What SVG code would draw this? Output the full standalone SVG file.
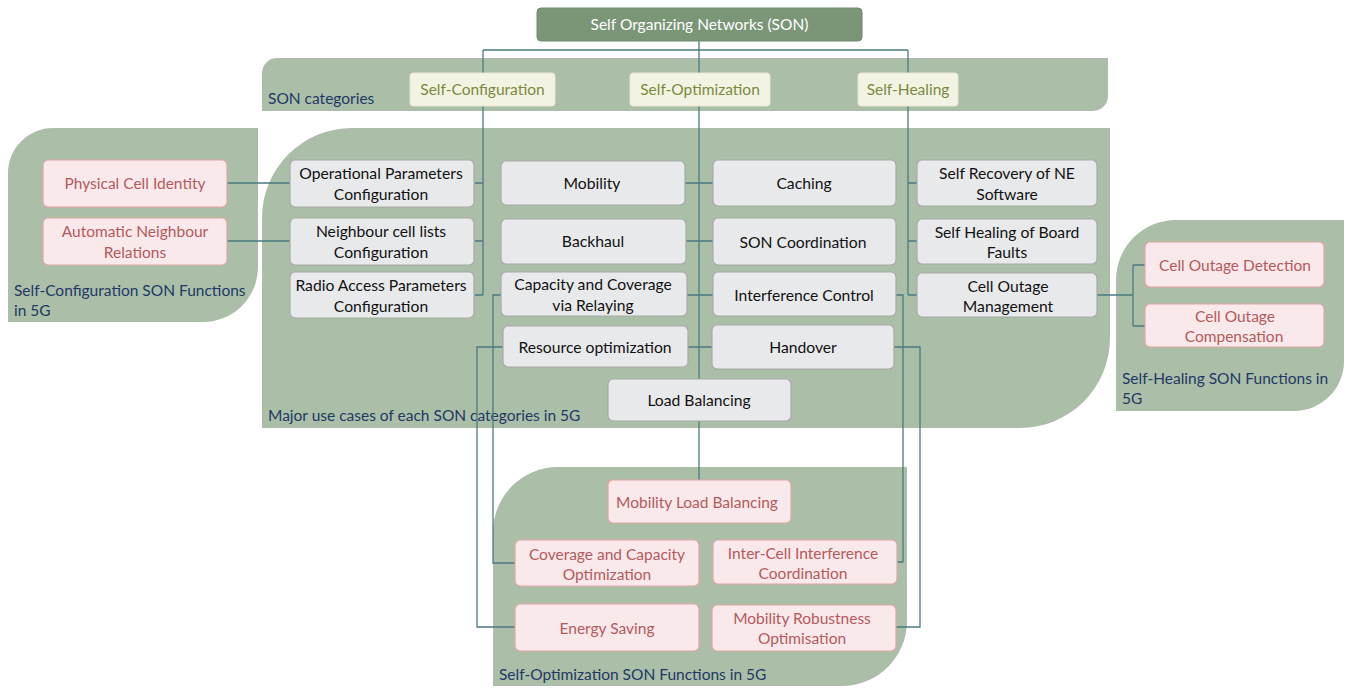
<svg xmlns="http://www.w3.org/2000/svg" width="1348" height="689" viewBox="0 0 1348 689">
<style>
.panel{fill:#abbfa8}
.plabel{font-family:Lato,"Open Sans",sans-serif;font-size:15.5px;fill:#1f3864}
.gray rect{fill:#e8e9eb;stroke:#a8aaa8;stroke-width:1.2}
.gray text{font-family:Lato,"Open Sans",sans-serif;font-size:15.7px;fill:#111;text-anchor:middle}
.pink rect{fill:#fae9ea;stroke:#e3a5a6;stroke-width:1.2}
.pink text{font-family:Lato,"Open Sans",sans-serif;font-size:15.5px;fill:#b4595c;text-anchor:middle}
.cat rect{fill:#f3f3e4;stroke:#e6e6d0;stroke-width:1}
.cat text{font-family:Lato,"Open Sans",sans-serif;font-size:15.5px;fill:#7a8a3c;text-anchor:middle}
.conn path{fill:none;stroke:#4b7a80;stroke-width:1.3}
</style>
<rect width="1348" height="689" fill="#ffffff"/>
<g id="panels">
<path class="panel" d="M277,58 H1108 V96 A15,15 0 0 1 1093,111 H262 V73 A15,15 0 0 1 277,58 Z"/>
<path class="panel" d="M352,128 H1110 V338 A90,90 0 0 1 1020,428 H262 V218 A90,90 0 0 1 352,128 Z"/>
<path class="panel" d="M53,128 H258 V267 A55,55 0 0 1 203,322 H8 V173 A45,45 0 0 1 53,128 Z"/>
<path class="panel" d="M1176,220 H1344 V361 A50,50 0 0 1 1294,411 H1116 V280 A60,60 0 0 1 1176,220 Z"/>
<path class="panel" d="M558,467 H907 V621 A65,65 0 0 1 842,686 H493 V532 A65,65 0 0 1 558,467 Z"/>
<text class="plabel" x="268" y="104">SON categories</text>
<text class="plabel" x="268" y="421">Major use cases of each SON categories in 5G</text>
<text class="plabel" x="14" y="296">Self-Configuration SON Functions</text>
<text class="plabel" x="14" y="316">in 5G</text>
<text class="plabel" x="1122" y="384">Self-Healing SON Functions in</text>
<text class="plabel" x="1122" y="404">5G</text>
<text class="plabel" x="499" y="680">Self-Optimization SON Functions in 5G</text>
</g>
<g id="connectors" class="conn">
<path d="M699,41 V50 M483,50 H908 M483,50 V73 M699,50 V73 M908,50 V73"/>
<path d="M483,106 V295 M475,183 H483 M475,241 H483 M475,295 H483"/>
<path d="M227,183 H290 M227,241 H290"/>
<path d="M699,106 V481 M685,183 H713 M686,241 H713 M687,295 H713 M688,347 H712"/>
<path d="M908,106 V295 M908,183 H917 M908,241 H917 M908,295 H917"/>
<path d="M1097,295 H1133 M1133,265 V326 M1133,265 H1145 M1133,326 H1145"/>
<path d="M501,295 H493 V563 H515"/>
<path d="M503,347 H477 V627 H515"/>
<path d="M896,295 H903 V562 H897"/>
<path d="M894,347 H920 V627 H896"/>
</g>
<g id="son">
<rect x="537" y="8" width="325" height="33" rx="4" fill="#7a9677" stroke="#6f8b6c"/>
<text x="699.5" y="30" font-family="Lato,'Open Sans',sans-serif" font-size="15.5" fill="#ffffff" text-anchor="middle">Self Organizing Networks (SON)</text>
</g>
<g id="self-configuration" class="cat"><rect x="410" y="73" width="145" height="33" rx="3"/><text x="482.5" y="95">Self-Configuration</text></g>
<g id="self-optimization" class="cat"><rect x="630" y="73" width="140" height="33" rx="3"/><text x="700" y="95">Self-Optimization</text></g>
<g id="self-healing" class="cat"><rect x="858" y="73" width="100" height="33" rx="3"/><text x="908" y="95">Self-Healing</text></g>

<g id="physical-cell-identity" class="pink"><rect x="43" y="160" width="184" height="47" rx="5"/><text x="135" y="189">Physical Cell Identity</text></g>
<g id="automatic-neighbour-relations" class="pink"><rect x="43" y="218" width="184" height="47" rx="5"/><text x="135" y="237">Automatic Neighbour</text><text x="135" y="258">Relations</text></g>

<g id="operational-parameters" class="gray"><rect x="290" y="160" width="184" height="47" rx="5"/><text x="381" y="179">Operational Parameters</text><text x="381" y="200">Configuration</text></g>
<g id="neighbour-cell-lists" class="gray"><rect x="290" y="218" width="184" height="47" rx="5"/><text x="381" y="237">Neighbour cell lists</text><text x="381" y="258">Configuration</text></g>
<g id="radio-access-parameters" class="gray"><rect x="290" y="272" width="184" height="46" rx="5"/><text x="381" y="291">Radio Access Parameters</text><text x="381" y="312">Configuration</text></g>

<g id="mobility" class="gray"><rect x="501" y="161" width="184" height="44" rx="5"/><text x="592" y="189">Mobility</text></g>
<g id="backhaul" class="gray"><rect x="501" y="219" width="185" height="45" rx="5"/><text x="593" y="247">Backhaul</text></g>
<g id="capacity-coverage-relaying" class="gray"><rect x="501" y="272" width="186" height="44" rx="5"/><text x="593" y="290">Capacity and Coverage</text><text x="593" y="311">via Relaying</text></g>
<g id="resource-optimization" class="gray"><rect x="503" y="326" width="185" height="41" rx="5"/><text x="595" y="353">Resource optimization</text></g>
<g id="load-balancing" class="gray"><rect x="608" y="379" width="183" height="42" rx="5"/><text x="699" y="406">Load Balancing</text></g>

<g id="caching" class="gray"><rect x="713" y="160" width="183" height="46" rx="5"/><text x="804" y="189">Caching</text></g>
<g id="son-coordination" class="gray"><rect x="713" y="218" width="183" height="47" rx="5"/><text x="803" y="248">SON Coordination</text></g>
<g id="interference-control" class="gray"><rect x="713" y="272" width="183" height="44" rx="5"/><text x="804" y="301">Interference Control</text></g>
<g id="handover" class="gray"><rect x="712" y="325" width="182" height="44" rx="5"/><text x="803" y="353">Handover</text></g>

<g id="self-recovery-ne-software" class="gray"><rect x="917" y="160" width="180" height="46" rx="5"/><text x="1007" y="179">Self Recovery of NE</text><text x="1007" y="200">Software</text></g>
<g id="self-healing-board-faults" class="gray"><rect x="917" y="219" width="180" height="45" rx="5"/><text x="1007" y="238">Self Healing of Board</text><text x="1007" y="258">Faults</text></g>
<g id="cell-outage-management" class="gray"><rect x="917" y="273" width="180" height="44" rx="5"/><text x="1008" y="292">Cell Outage</text><text x="1008" y="312">Management</text></g>

<g id="cell-outage-detection" class="pink"><rect x="1145" y="242" width="179" height="45" rx="5"/><text x="1235" y="271">Cell Outage Detection</text></g>
<g id="cell-outage-compensation" class="pink"><rect x="1145" y="304" width="179" height="43" rx="5"/><text x="1235" y="322">Cell Outage</text><text x="1234" y="342">Compensation</text></g>

<g id="mobility-load-balancing" class="pink"><rect x="608" y="480" width="183" height="43" rx="5"/><text x="697" y="508">Mobility Load Balancing</text></g>
<g id="coverage-capacity-optimization" class="pink"><rect x="515" y="540" width="184" height="46" rx="5"/><text x="607" y="560">Coverage and Capacity</text><text x="607" y="580">Optimization</text></g>
<g id="inter-cell-interference-coordination" class="pink"><rect x="713" y="540" width="184" height="44" rx="5"/><text x="803" y="559">Inter-Cell Interference</text><text x="803" y="579">Coordination</text></g>
<g id="energy-saving" class="pink"><rect x="515" y="604" width="184" height="47" rx="5"/><text x="607" y="634">Energy Saving</text></g>
<g id="mobility-robustness-optimisation" class="pink"><rect x="712" y="605" width="184" height="46" rx="5"/><text x="802" y="624">Mobility Robustness</text><text x="802" y="644">Optimisation</text></g>
</svg>
